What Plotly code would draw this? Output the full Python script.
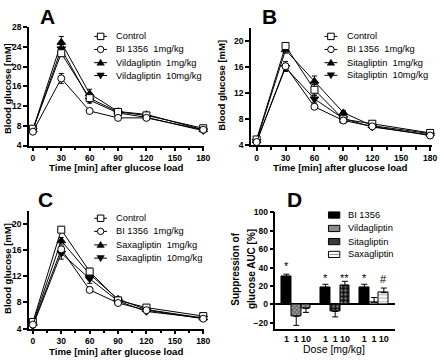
import plotly.graph_objects as go

W, H = 440, 363

# ---------------- data ----------------
time_min = [0, 30, 60, 90, 120, 180]

# Panel A (Vildagliptin)
a_control = [7.4, 22.7, 13.6, 10.8, 10.1, 7.5]
a_bi1356 = [6.8, 17.6, 11.0, 9.6, 9.6, 7.2]
a_drug1 = [7.2, 24.9, 14.5, 10.9, 10.3, 7.2]
a_drug10 = [7.1, 23.6, 13.2, 10.6, 9.7, 7.0]
a_control_err = [0.3, 0.6, 0.7, 0.4, 0.4, 0.3]
a_bi1356_err = [0.2, 1.0, 0.4, 0.3, 0.3, 0.3]
a_drug1_err = [0.3, 1.2, 0.9, 0.4, 0.4, 0.3]
a_drug10_err = [0.3, 0.9, 0.6, 0.4, 0.4, 0.3]

# Panel B (Sitagliptin)
b_control = [4.9, 19.2, 12.5, 8.0, 7.3, 5.9]
b_bi1356 = [4.5, 16.1, 9.9, 7.8, 6.9, 5.5]
b_drug1 = [4.7, 18.6, 13.8, 9.0, 7.0, 5.8]
b_drug10 = [4.6, 15.9, 11.1, 8.1, 6.8, 5.6]
b_control_err = [0.3, 0.4, 0.8, 0.3, 0.2, 0.2]
b_bi1356_err = [0.2, 0.7, 0.4, 0.2, 0.2, 0.2]
b_drug1_err = [0.2, 0.5, 0.8, 0.3, 0.2, 0.2]
b_drug10_err = [0.2, 0.6, 0.5, 0.3, 0.2, 0.2]

# Panel C (Saxagliptin)
c_control = [5.0, 19.1, 12.7, 8.3, 7.2, 5.9]
c_bi1356 = [4.6, 16.1, 9.9, 7.9, 6.8, 5.5]
c_drug1 = [4.8, 17.4, 12.3, 8.5, 6.9, 5.6]
c_drug10 = [4.4, 15.5, 11.6, 8.2, 6.6, 5.6]
c_control_err = [0.3, 0.4, 0.5, 0.3, 0.2, 0.2]
c_bi1356_err = [0.2, 0.5, 0.4, 0.2, 0.2, 0.2]
c_drug1_err = [0.2, 0.5, 0.4, 0.3, 0.2, 0.2]
c_drug10_err = [0.2, 0.9, 0.7, 0.3, 0.2, 0.2]

series_names_a = ["Control", "BI 1356\u00a0\u00a01mg/kg", "Vildagliptin\u00a0\u00a01mg/kg", "Vildagliptin\u00a0\u00a010mg/kg"]
series_names_b = ["Control", "BI 1356\u00a0\u00a01mg/kg", "Sitagliptin\u00a0\u00a01mg/kg", "Sitagliptin\u00a0\u00a010mg/kg"]
series_names_c = ["Control", "BI 1356\u00a0\u00a01mg/kg", "Saxagliptin\u00a0\u00a01mg/kg", "Saxagliptin\u00a0\u00a010mg/kg"]

# Panel D: suppression of glucose AUC [%]
d_group_compounds = ["Vildagliptin", "Sitagliptin", "Saxagliptin"]
d_bi1356 = [30.0, 18.0, 18.0]
d_bi1356_err = [2.8, 3.8, 3.8]
d_vilda = [-13.0, -4.5]
d_vilda_err = [9.9, 4.3]
d_sita = [-7.8, 20.1]
d_sita_err = [5.9, 4.9]
d_saxa = [2.2, 12.7]
d_saxa_err = [5.2, 5.0]
d_dose_labels = ["1", "1", "10"]
d_sig_marks = [("*", 0, 0, 45), ("*", 1, 0, 32), ("**", 1, 2, 32), ("*", 2, 0, 32), ("#", 2, 2, 31)]

# ---------------- helpers ----------------
FONT = "Liberation Sans"


def X(px):
    return px / W


def Y(py):
    return 1 - py / H


tickfont = dict(family=FONT, size=8.5, color="black", weight="bold")

fig = go.Figure()

sym = ["square", "circle", "triangle-up", "triangle-down"]
fills = ["white", "white", "black", "black"]

panels = [
    ("x", "y", [a_control, a_bi1356, a_drug1, a_drug10], [a_control_err, a_bi1356_err, a_drug1_err, a_drug10_err]),
    ("x2", "y2", [b_control, b_bi1356, b_drug1, b_drug10], [b_control_err, b_bi1356_err, b_drug1_err, b_drug10_err]),
    ("x3", "y3", [c_control, c_bi1356, c_drug1, c_drug10], [c_control_err, c_bi1356_err, c_drug1_err, c_drug10_err]),
]
for xa, ya, vals, errs in panels:
    for k in [2, 3, 0, 1]:
        fig.add_trace(go.Scatter(
            x=time_min, y=vals[k], mode="lines+markers",
            line=dict(color="black", width=1),
            marker=dict(symbol=sym[k], size=7 if k < 2 else 7.5, color=fills[k], line=dict(color="black", width=1)),
            error_y=dict(type="data", array=errs[k], color="black", thickness=1, width=2.5),
            xaxis=xa, yaxis=ya, showlegend=False, cliponaxis=False,
        ))

# Panel D bars
G = 4.0  # group spacing in bar widths


def pos(g, slot):
    return g * G + slot


bar_line = dict(color="black", width=1)


def err_dir(vals, errs):
    up = [e if v >= 0 else 0 for v, e in zip(vals, errs)]
    dn = [e if v < 0 else 0 for v, e in zip(vals, errs)]
    return dict(type="data", symmetric=False, array=up, arrayminus=dn, color="black", thickness=1, width=3)


fig.add_trace(go.Bar(
    x=[pos(g, 0) for g in range(3)], y=d_bi1356, width=1.0,
    marker=dict(color="black", line=bar_line),
    error_y=err_dir(d_bi1356, d_bi1356_err), xaxis="x4", yaxis="y4", showlegend=False))
fig.add_trace(go.Bar(
    x=[pos(0, 1), pos(0, 2)], y=d_vilda, width=1.0,
    marker=dict(color="#777", line=bar_line,
                pattern=dict(shape="x", fgcolor="#111", bgcolor="#a0a0a0", size=3, solidity=0.5)),
    error_y=err_dir(d_vilda, d_vilda_err), xaxis="x4", yaxis="y4", showlegend=False))
fig.add_trace(go.Bar(
    x=[pos(1, 1), pos(1, 2)], y=d_sita, width=1.0,
    marker=dict(color="black", line=bar_line,
                pattern=dict(shape=".", fgcolor="white", bgcolor="black", size=4, solidity=0.45)),
    error_y=err_dir(d_sita, d_sita_err), xaxis="x4", yaxis="y4", showlegend=False))
fig.add_trace(go.Bar(
    x=[pos(2, 1), pos(2, 2)], y=d_saxa, width=1.0,
    marker=dict(color="white", line=bar_line,
                pattern=dict(shape="-", fgcolor="#888", bgcolor="white", size=3.5, solidity=0.4)),
    error_y=err_dir(d_saxa, d_saxa_err), xaxis="x4", yaxis="y4", showlegend=False))

# ---------------- axes ----------------
LW = 1.6


def time_xaxis(x0, x1, rng, anchor):
    return dict(domain=[X(x0), X(x1)], range=rng, anchor=anchor, showline=True, linecolor="black",
                linewidth=LW, ticks="outside", ticklen=3.5, tickwidth=LW, tickcolor="black",
                tickmode="linear", tick0=0, dtick=30,
                minor=dict(tickmode="linear", tick0=0, dtick=15, ticks="outside", ticklen=3, tickwidth=LW,
                           tickcolor="black", showgrid=False),
                showgrid=False, zeroline=False, tickfont=tickfont, ticklabelstandoff=0)


def glu_yaxis(y_top, y_bot, rng, anchor):
    return dict(domain=[Y(y_bot), Y(y_top)], range=rng, anchor=anchor, showline=True, linecolor="black",
                linewidth=LW, ticks="outside", ticklen=4, tickwidth=LW, tickcolor="black",
                tickmode="linear", tick0=4, dtick=4, showgrid=False, zeroline=False, tickfont=tickfont,
                ticklabelstandoff=0)


fig.update_layout(
    xaxis=time_xaxis(29.3, 207, [-4.2, 181], "y"),
    yaxis=glu_yaxis(22.7, 144.5, [4, 28], "x"),
    xaxis2=time_xaxis(254.5, 438, [-5.8, 182], "y2"),
    yaxis2=glu_yaxis(23.3, 144.3, [4, 22], "x2"),
    xaxis3=time_xaxis(29.3, 207, [-4.2, 181], "y3"),
    yaxis3=glu_yaxis(211.5, 332.7, [4, 22], "x3"),
    xaxis4=dict(domain=[X(279.3), X(400)], range=[-1.13, 11.1], anchor="y4", showline=True,
                linecolor="black", linewidth=LW, ticks="", tickmode="array",
                tickvals=[pos(g, s) for g in range(3) for s in range(3)],
                ticktext=d_dose_labels * 3, tickangle=0, showgrid=False, zeroline=False,
                tickfont=dict(family=FONT, size=9, color="black", weight="bold")),
    yaxis4=dict(domain=[Y(333.3), Y(213.3)], range=[-27, 100], anchor="x4", showline=True,
                linecolor="black", linewidth=LW, ticks="outside", ticklen=4, tickwidth=LW,
                tickcolor="black", tickmode="linear", tick0=0, dtick=20, showgrid=False,
                zeroline=True, zerolinecolor="black", zerolinewidth=2, tickfont=tickfont,
                ticklabelstandoff=0),
)

annotations = []
shapes = []


def text(px, py, s, size, bold=False, angle=0, xanchor="center", yanchor="middle"):
    annotations.append(dict(x=X(px), y=Y(py), xref="paper", yref="paper", text=s, showarrow=False,
                            textangle=angle, xanchor=xanchor, yanchor=yanchor,
                            font=dict(family=FONT, size=size, color="#000000",
                                      weight="bold" if bold else "normal")))


# panel letters
text(48, 12, "A", 21, True)
text(273, 12, "B", 21, True)
text(46, 200, "C", 21, True)
text(299, 200, "D", 21, True)

# axis titles
xt = "Time [min] after glucose load"
yt = "Blood glucose [mM]"
text(118, 166.8, xt, 9.7, True)
text(345, 166.8, xt, 9.7, True)
text(118, 356.3, xt, 9.7, True)
text(7.5, 86, yt, 9.5, True, -90)
text(225, 82, yt, 9.5, True, -90)
text(7.5, 271, yt, 9.5, True, -90)
text(238.5, 272, "Suppression of", 10, True, -90)
text(255, 272, "glucose AUC [%]", 10, True, -90)
text(339, 354, "Dose [mg/kg]", 10.5, False)


# line legends
def marker_shape(kind, cx, cy):
    r = 3.3
    if kind == "square":
        shapes.append(dict(type="rect", xref="paper", yref="paper", x0=X(cx - r), x1=X(cx + r),
                           y0=Y(cy + r), y1=Y(cy - r), fillcolor="white", line=dict(color="black", width=1)))
    elif kind == "circle":
        shapes.append(dict(type="circle", xref="paper", yref="paper", x0=X(cx - r), x1=X(cx + r),
                           y0=Y(cy + r), y1=Y(cy - r), fillcolor="white", line=dict(color="black", width=1)))
    else:
        s = 1 if kind == "triangle-up" else -1
        pts = [(cx, cy - s * 3.6), (cx + 3.8, cy + s * 2.6), (cx - 3.8, cy + s * 2.6)]
        path = "M " + " L ".join(f"{X(a):.5f},{Y(b):.5f}" for a, b in pts) + " Z"
        shapes.append(dict(type="path", xref="paper", yref="paper", path=path, fillcolor="black",
                           line=dict(color="black", width=0.5)))


def line_legend(names, cx, x_text, rows):
    for k, (nm, ry) in enumerate(zip(names, rows)):
        shapes.append(dict(type="line", xref="paper", yref="paper", x0=X(cx - 6.5), x1=X(cx + 6.5),
                           y0=Y(ry), y1=Y(ry), line=dict(color="black", width=1)))
        marker_shape(sym[k], cx, ry)
        text(x_text, ry, nm, 9.3, False, 0, "left")


line_legend(series_names_a, 102, 116, [32.3, 45.7, 59.3, 72.5])
line_legend(series_names_b, 335.5, 349.5, [32.3, 45.7, 59.3, 72.3])
line_legend(series_names_c, 102, 116, [219.3, 232.8, 246.7, 260.3])

# bar legend
bar_rows = [216, 229.8, 243.3, 256.5]
bar_names = ["BI 1356"] + d_group_compounds
bar_fills = ["black", "#8a8a8a", "#3a3a3a", "white"]
for nm, ry, fc in zip(bar_names, bar_rows, bar_fills):
    shapes.append(dict(type="rect", xref="paper", yref="paper", x0=X(333), x1=X(344.5),
                       y0=Y(ry + 3.2), y1=Y(ry - 3.2), fillcolor=fc, line=dict(color="black", width=1)))
    if nm == "Saxagliptin":
        shapes.append(dict(type="line", xref="paper", yref="paper", x0=X(334), x1=X(343.5),
                           y0=Y(ry), y1=Y(ry), line=dict(color="#888", width=1)))
    text(351, ry, nm, 9.3, False, 0, "left")

# significance marks
for s, g, slot, lvl in d_sig_marks:
    annotations.append(dict(x=pos(g, slot), y=lvl, xref="x4", yref="y4", text=s, showarrow=False,
                            yshift=-3, font=dict(family=FONT, size=11, color="#000000")))

fig.update_layout(
    width=W, height=H, autosize=False,
    margin=dict(l=0, r=0, t=0, b=0),
    paper_bgcolor="white", plot_bgcolor="white",
    showlegend=False, bargap=0,
    annotations=annotations, shapes=shapes,
    font=dict(family=FONT, color="black"),
)

fig.write_html("out.html", config={"displayModeBar": False},
               post_script="document.body.style.margin='0';document.body.style.padding='0';")
